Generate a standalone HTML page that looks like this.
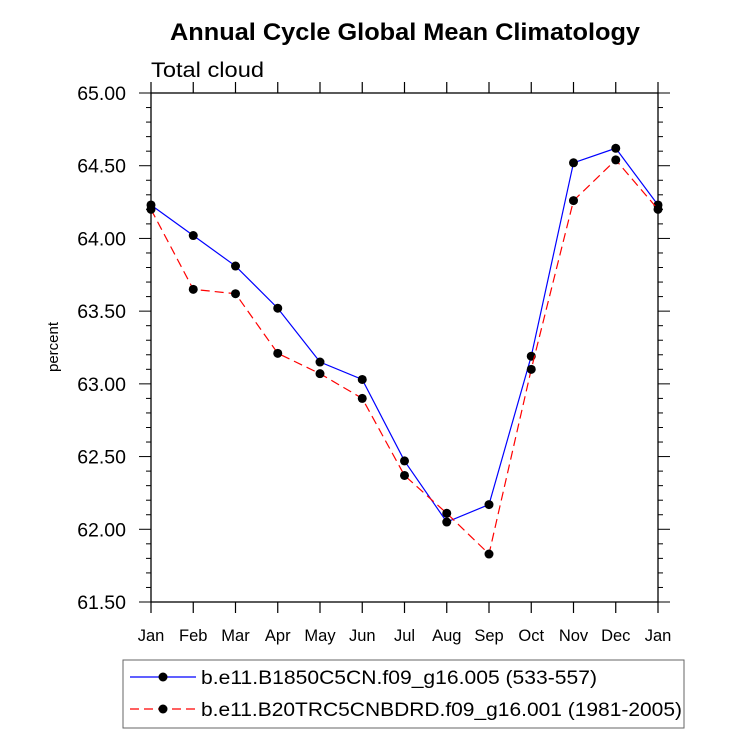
<!DOCTYPE html>
<html><head><meta charset="utf-8"><style>
body{margin:0;background:#fff;}
svg{font-family:"Liberation Sans",sans-serif;display:block;}
</style></head><body>
<svg id="chart" width="733" height="748" viewBox="0 0 733 748" xmlns="http://www.w3.org/2000/svg">
<text x="170" y="40" font-size="24" font-weight="bold" textLength="470" lengthAdjust="spacingAndGlyphs">Annual Cycle Global Mean Climatology</text>
<text x="151" y="77" font-size="21" textLength="113" lengthAdjust="spacingAndGlyphs">Total cloud</text>
<text transform="translate(58,347) rotate(-90)" text-anchor="middle" font-size="15">percent</text>
<g id="axes"></g>
<g id="series"></g>
<rect x="123" y="660" width="561" height="68" fill="none" stroke="#666" stroke-width="1"/>
<g>
<line x1="130" y1="677" x2="196" y2="677" stroke="#00f" stroke-width="1.2"/>
<circle cx="163" cy="677" r="4.5" fill="#000"/>
<text x="201" y="684" font-size="19" textLength="396" lengthAdjust="spacingAndGlyphs">b.e11.B1850C5CN.f09_g16.005 (533-557)</text>
</g>
<g>
<line x1="130" y1="709" x2="196" y2="709" stroke="#f00" stroke-width="1.2" stroke-dasharray="9,5"/>
<circle cx="163" cy="709" r="4.5" fill="#000"/>
<text x="201" y="716" font-size="19" textLength="481" lengthAdjust="spacingAndGlyphs">b.e11.B20TRC5CNBDRD.f09_g16.001 (1981-2005)</text>
</g>
</svg>
<script>
const months = ["Jan","Feb","Mar","Apr","May","Jun","Jul","Aug","Sep","Oct","Nov","Dec","Jan"];
const blueValues = [64.23,64.02,63.81,63.52,63.15,63.03,62.47,62.05,62.17,63.19,64.52,64.62,64.23];
const redValues = [64.20,63.65,63.62,63.21,63.07,62.90,62.37,62.11,61.83,63.10,64.26,64.54,64.20];
const yTicks = [61.5,62.0,62.5,63.0,63.5,64.0,64.5,65.0];
const yMin = 61.5, yMax = 65.0;
const L=151,R=658,T=93,B=602;
const NS="http://www.w3.org/2000/svg";
function xs(i){return L+(R-L)*i/(months.length-1);}
function ys(v){return B-(v-yMin)/(yMax-yMin)*(B-T);}
function mk(tag,attrs,parent){const e=document.createElementNS(NS,tag);for(const k in attrs)e.setAttribute(k,attrs[k]);parent.appendChild(e);return e;}
const ax=document.getElementById('axes');
const box=mk('rect',{x:L,y:T,width:R-L,height:B-T,fill:'none',stroke:'#000','stroke-width':1.3},ax);


months.forEach((m,i)=>{
  const x=xs(i);
  mk('line',{x1:x,y1:B,x2:x,y2:B+11,stroke:'#000','stroke-width':1.2},ax);
  mk('line',{x1:x,y1:T,x2:x,y2:T-11,stroke:'#000','stroke-width':1.2},ax);
  const t=mk('text',{x:x,y:641,'text-anchor':'middle','font-size':16.5},ax);
  t.textContent=m;
  
  
});
for(let k=0;k<=35;k++){
  const v=yMin+k*0.1, y=ys(v);
  const major=k%5===0;
  const len=major?12:5;
  mk('line',{x1:L,y1:y,x2:L-len,y2:y,stroke:'#000','stroke-width':1},ax);
  mk('line',{x1:R,y1:y,x2:R+len,y2:y,stroke:'#000','stroke-width':1},ax);
}
yTicks.forEach(v=>{
  const t=mk('text',{x:126,y:ys(v)+7,'text-anchor':'end','font-size':19.5},ax);
  t.textContent=v.toFixed(2);
  
  
});
const sg=document.getElementById('series');
function drawSeries(vals,color,dash,name){
  const g=mk('g',{},sg);
  
  
  const pts=vals.map((v,i)=>xs(i)+','+ys(v)).join(' ');
  const a={points:pts,fill:'none',stroke:color,'stroke-width':1.2};
  if(dash)a['stroke-dasharray']=dash;
  mk('polyline',a,g);
  vals.forEach((v,i)=>{
    const c=mk('circle',{cx:xs(i),cy:ys(v),r:4.5,fill:'#000'},g);
    
    
  });
}
drawSeries(blueValues,'#00f',null,'series-b1850');
drawSeries(redValues,'#f00','9,5','series-b20trc');
</script>
</body></html>
